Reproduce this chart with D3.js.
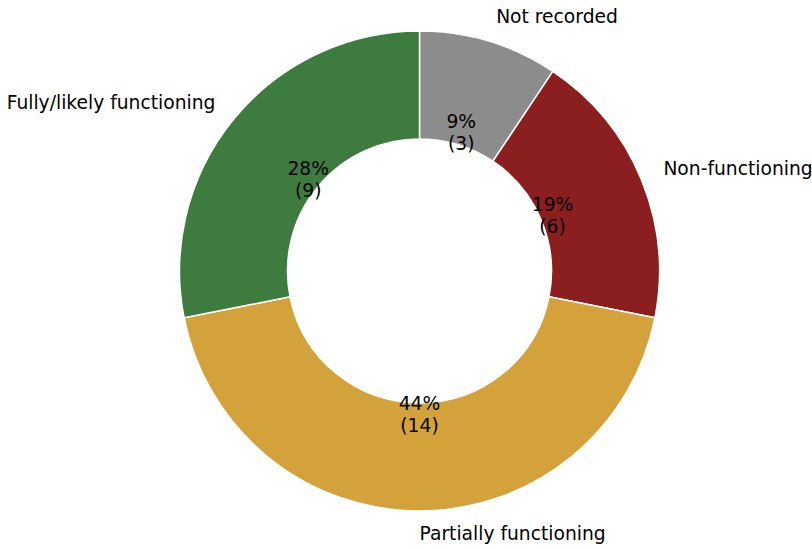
<!DOCTYPE html>
<html>
<head>
<meta charset="utf-8">
<script src="https://cdn.jsdelivr.net/npm/d3@7"></script>
<style>
  html, body { margin: 0; padding: 0; background: #fff; }
  svg text { font-family: "DejaVu Sans", sans-serif; font-size: 18.7px; fill: #000; }
</style>
</head>
<body>
<svg id="chart" width="812" height="548"></svg>
<script>
// Status categories, counts and slice colours (clockwise from 12 o'clock)
const categories = ["Not recorded", "Non-functioning", "Partially functioning", "Fully/likely functioning"];
const counts = [3, 6, 14, 9];
const colors = ["#8c8c8c", "#8b1e1e", "#d4a23a", "#3e7b3e"];

const width = 812, height = 548;
const cx = 419.5, cy = 271;
const outerR = 240;
const innerR = outerR * 0.55;
const labelR = outerR * 1.1;
const pctR = outerR * 0.6;

const svg = d3.select("#chart");
const g = svg.append("g").attr("transform", `translate(${cx},${cy})`);

const total = d3.sum(counts);
const data = categories.map((c, i) => ({ name: c, value: counts[i], color: colors[i] }));

const pie = d3.pie().value(d => d.value).sort(null);
const arcs = pie(data);

const arc = d3.arc().innerRadius(innerR).outerRadius(outerR);

g.selectAll("path.slice")
  .data(arcs)
  .enter().append("path")
  .attr("class", "slice")
  .attr("d", arc)
  .attr("fill", d => d.data.color)
  .attr("stroke", "#fff")
  .attr("stroke-width", 1.5)
  .attr("stroke-linejoin", "round");

const mid = d => (d.startAngle + d.endAngle) / 2;

// Category names outside the ring
g.selectAll("text.cat")
  .data(arcs)
  .enter().append("text")
  .attr("class", "cat")
  .attr("x", d => labelR * Math.sin(mid(d)))
  .attr("y", d => -labelR * Math.cos(mid(d)))
  .attr("dy", "0.27em")
  .attr("text-anchor", d => Math.sin(mid(d)) < -1e-9 ? "end" : "start")
  .text(d => d.data.name);

// Percentage and count inside each slice
const pct = g.selectAll("text.pct")
  .data(arcs)
  .enter().append("text")
  .attr("class", "pct")
  .attr("text-anchor", "middle")
  .attr("transform", d => `translate(${pctR * Math.sin(mid(d))},${-pctR * Math.cos(mid(d))})`);

pct.append("tspan")
  .attr("x", 0)
  .attr("y", -5)
  .text(d => `${Math.round(d.data.value / total * 100)}%`);

pct.append("tspan")
  .attr("x", 0)
  .attr("y", 17)
  .text(d => `(${d.data.value})`);
</script>
</body>
</html>
